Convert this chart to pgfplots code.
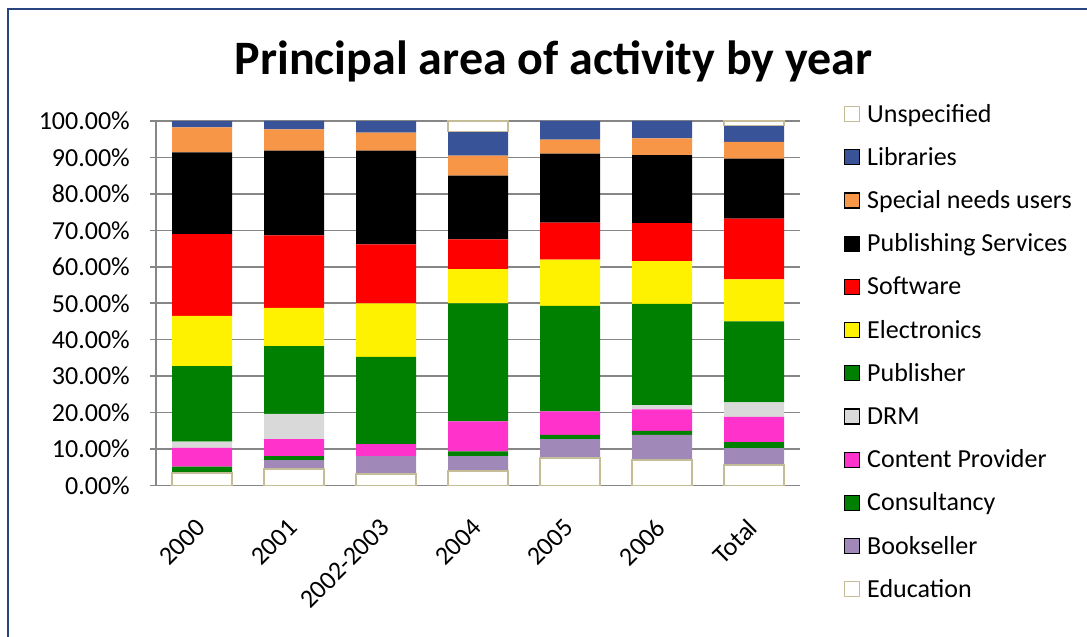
\documentclass[border=0pt]{standalone}
\usepackage{pgfplots}
\usepackage{pgfplotstable}
\pgfplotsset{compat=1.18}
\usepackage{fontspec}
\setmainfont{Carlito}
\definecolor{tanb}{RGB}{196,189,151}
\definecolor{libc}{RGB}{56,83,152}
\definecolor{specc}{RGB}{247,150,70}
\definecolor{pubg}{RGB}{0,128,0}
\definecolor{drmc}{RGB}{217,217,217}
\definecolor{contc}{RGB}{255,51,204}
\definecolor{bookc}{RGB}{160,137,185}
\definecolor{gridc}{RGB}{134,134,134}
\definecolor{frameb}{RGB}{41,69,128}
\pgfplotstableread{
x edu book cons cont drm pub elec soft pserv spec lib
0 3.45 0.00 1.72 5.17 1.72 20.69 13.79 22.41 22.41 6.90 1.72
1 4.57 2.38 1.10 4.67 6.95 18.57 10.52 19.85 23.24 5.86 2.29
2 3.11 4.94 0.00 3.29 0.00 23.97 14.64 16.19 25.71 4.94 3.20
3 4.03 4.02 1.28 8.24 0.00 32.38 9.43 8.14 17.47 5.49 6.68
4 7.50 5.22 1.19 6.40 0.00 29.00 12.63 10.16 18.94 3.84 5.12
5 6.95 6.95 1.10 5.86 1.19 27.81 11.71 10.43 18.67 4.57 4.76
6 5.67 4.58 1.64 6.96 3.93 22.23 11.53 16.65 16.47 4.58 4.48
}\maindata
\pgfplotstableread{
x base unsp
3 97.16 2.84
6 98.72 1.28
}\unspdata
\pgfplotsset{lg/.style={legend image code/.code={\draw[##1,line width=1.2bp] (0bp,-7.5bp) rectangle (15bp,7.5bp);}}}
\begin{document}
\begin{tikzpicture}
\path[use as bounding box] (0,0) rectangle (1087bp,637bp);
\draw[color=frameb, line width=2bp] (8bp,-2bp) -- (8bp,627.5bp) -- (1090bp,627.5bp);
\node[anchor=base, inner sep=0pt, font=\fontsize{48bp}{57bp}\selectfont\bfseries] at (553.5bp,562bp) {Principal area of activity by year};
\begin{axis}[
  at={(156bp,151.5bp)}, anchor=south west,
  scale only axis, width=644bp, height=364.5bp,
  xmin=-0.5, xmax=6.5, ymin=0, ymax=100,
  ybar stacked, bar width=60bp,
  xtick={0,...,6}, xticklabels={2000,2001,2002-2003,2004,2005,2006,Total},
  ytick={0,10,...,100},
  ymajorgrids, grid style={color=gridc, line width=1.6bp},
  axis x line*=bottom, axis y line*=left,
  axis line style={color=gridc, line width=1.6bp, -},
  tick align=outside, major tick length=6bp,
  ytick style={color=gridc, line width=1.6bp},
  xtick style={draw=none},
  tick label style={font=\fontsize{26bp}{31bp}\selectfont},
  /pgf/number format/assume math mode=true,
  yticklabel={\pgfmathprintnumber[fixed,fixed zerofill,precision=2]{\tick}\%},
  yticklabel style={anchor=east, inner sep=0pt, xshift=-20bp},
  xticklabel style={xshift=-1bp, yshift=-32bp, rotate=45, anchor=east, inner sep=0pt},
  clip=false,
  reverse legend, legend cell align=left,
  legend style={draw=none, fill=none, at={(1,1)}, anchor=north west,
    xshift=44bp, yshift=16bp, inner sep=0pt, outer sep=0pt,
    row sep=25.2bp, column sep=7bp,
    font=\fontsize{26bp}{31bp}\selectfont,
    nodes={inner sep=0pt, text height=17bp, text depth=1bp}},
]
\addplot[lg, fill=white, draw=tanb, line width=1.5bp] table[x=x,y=edu]{\maindata};
\addlegendentry{Education}
\addplot[lg, fill=bookc, draw=none] table[x=x,y=book]{\maindata};
\addlegendentry{Bookseller}
\addplot[lg, fill=pubg, draw=none] table[x=x,y=cons]{\maindata};
\addlegendentry{Consultancy}
\addplot[lg, fill=contc, draw=none] table[x=x,y=cont]{\maindata};
\addlegendentry{Content Provider}
\addplot[lg, fill=drmc, draw=none] table[x=x,y=drm]{\maindata};
\addlegendentry{DRM}
\addplot[lg, fill=pubg, draw=none] table[x=x,y=pub]{\maindata};
\addlegendentry{Publisher}
\addplot[lg, fill=yellow, draw=none] table[x=x,y=elec]{\maindata};
\addlegendentry{Electronics}
\addplot[lg, fill=red, draw=none] table[x=x,y=soft]{\maindata};
\addlegendentry{Software}
\addplot[lg, fill=black, draw=none] table[x=x,y=pserv]{\maindata};
\addlegendentry{Publishing Services}
\addplot[lg, fill=specc, draw=none] table[x=x,y=spec]{\maindata};
\addlegendentry{Special needs users}
\addplot[lg, fill=libc, draw=none] table[x=x,y=lib]{\maindata};
\addlegendentry{Libraries}
\addlegendimage{lg, fill=white, draw=tanb, line width=1.5bp}
\addlegendentry{Unspecified}
\end{axis}
\begin{axis}[
  at={(156bp,151.5bp)}, anchor=south west,
  scale only axis, width=644bp, height=364.5bp,
  xmin=-0.5, xmax=6.5, ymin=0, ymax=100,
  ybar stacked, bar width=60bp, hide axis, clip=false,
]
\addplot[fill=none, draw=none] table[x=x,y=base]{\unspdata};
\addplot[fill=white, draw=tanb, line width=1.5bp] table[x=x,y=unsp]{\unspdata};
\end{axis}
\end{tikzpicture}
\end{document}
